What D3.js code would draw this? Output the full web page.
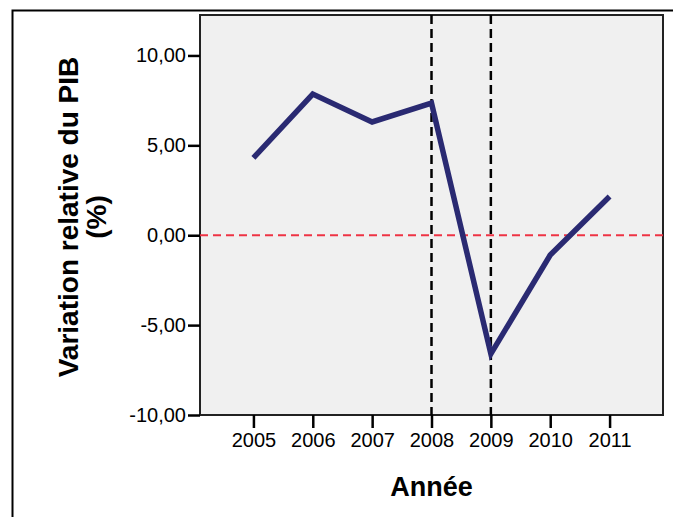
<!DOCTYPE html>
<html>
<head>
<meta charset="utf-8">
<script src="https://cdn.jsdelivr.net/npm/d3@7"></script>
<style>
  body { margin: 0; background: #fff; }
  svg { display: block; font-family: "Liberation Sans", Arial, sans-serif; }
</style>
</head>
<body>
<div id="chart"></div>
<script>
// data
const years = [2005, 2006, 2007, 2008, 2009, 2010, 2011];
const gdpChange = [4.3, 7.85, 6.3, 7.35, -6.6, -1.1, 2.15];
const yTicks = [-10, -5, 0, 5, 10];
const markedYears = [2008, 2009];

const W = 673, H = 517;
const margin = { top: 15, right: 10, bottom: 102, left: 200 };
const width = W - margin.left - margin.right;
const height = H - margin.top - margin.bottom;

const svg = d3.select("#chart").append("svg")
  .attr("width", W)
  .attr("height", H);

// outer frame (left and top only)
svg.append("path")
  .attr("d", `M12.5,${H} V10.5 H${W}`)
  .attr("fill", "none")
  .attr("stroke", "#000")
  .attr("stroke-width", 2);

const g = svg.append("g")
  .attr("transform", `translate(${margin.left},${margin.top})`);

const x = d3.scaleLinear().domain([2004.1, 2011.9]).range([0, width]);
const y = d3.scaleLinear().domain([-10, 12.25]).range([height, 0]);

g.append("rect")
  .attr("width", width)
  .attr("height", height)
  .attr("fill", "#f0f0f0")
  .attr("stroke", "#222")
  .attr("stroke-width", 2);

// reference line at zero
g.append("line")
  .attr("x1", 0).attr("x2", width)
  .attr("y1", y(0)).attr("y2", y(0))
  .attr("stroke", "#ee3344")
  .attr("stroke-width", 2)
  .attr("stroke-dasharray", "8,5");

// vertical markers
g.selectAll("line.mark").data(markedYears).enter()
  .append("line")
  .attr("class", "mark")
  .attr("x1", d => x(d)).attr("x2", d => x(d))
  .attr("y1", 0).attr("y2", height)
  .attr("stroke", "#000")
  .attr("stroke-width", 2.5)
  .attr("stroke-dasharray", "9,5");

const line = d3.line()
  .x((d, i) => x(years[i]))
  .y(d => y(d));

g.append("path")
  .datum(gdpChange)
  .attr("d", line)
  .attr("fill", "none")
  .attr("stroke", "#2a2a72")
  .attr("stroke-width", 5.5)
  .attr("stroke-linejoin", "miter");

// french decimals, plain hyphen for negatives
const fmt = d => d3.format(".2f")(d).replace(".", ",").replace("\u2212", "-");

const yAxis = g.append("g")
  .call(d3.axisLeft(y).tickValues(yTicks).tickFormat(fmt).tickSize(12).tickPadding(2));
const xAxis = g.append("g")
  .attr("transform", `translate(0,${height})`)
  .call(d3.axisBottom(x).tickValues(years).tickFormat(d3.format("d")).tickSize(13).tickPadding(5));

[yAxis, xAxis].forEach(a => {
  a.select(".domain").remove();
  a.selectAll(".tick line").attr("stroke", "#000").attr("stroke-width", 2.5);
  a.selectAll(".tick text")
    .attr("fill", "#000")
    .style("font-size", "20px")
    .style("font-family", "'Liberation Sans', Arial, sans-serif");
});

// axis titles
svg.append("text")
  .attr("x", margin.left + x(2008))
  .attr("y", 496)
  .attr("text-anchor", "middle")
  .style("font-size", "27px")
  .style("font-weight", "bold")
  .text("Année");

const yt = svg.append("text")
  .attr("transform", `translate(78,${margin.top + height / 2 + 2}) rotate(-90)`)
  .attr("text-anchor", "middle")
  .style("font-size", "28px")
  .style("font-weight", "bold");
yt.append("tspan").attr("x", 0).attr("y", 0).text("Variation relative du PIB");
yt.append("tspan").attr("x", 0).attr("y", 28).text("(%)");
</script>
</body>
</html>
